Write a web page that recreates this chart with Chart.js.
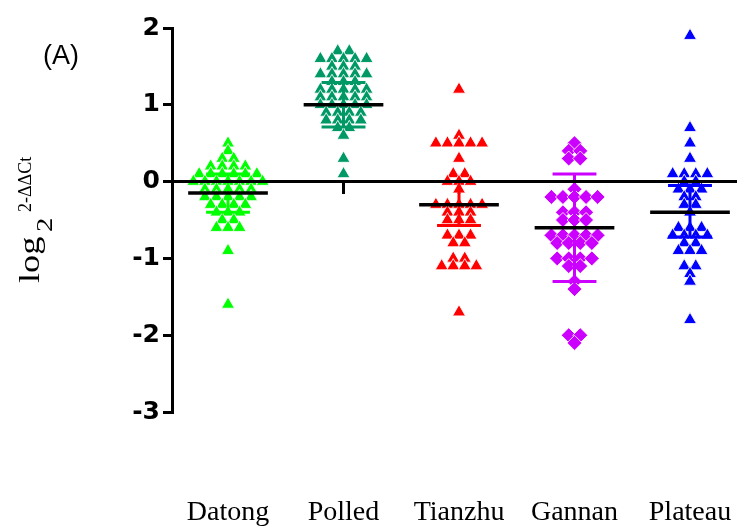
<!DOCTYPE html>
<html>
<head>
<meta charset="utf-8">
<script src="https://cdn.jsdelivr.net/npm/chart.js@4.4.0/dist/chart.umd.min.js"></script>
<style>
html,body{margin:0;padding:0;background:#fff;}
#wrap{width:737px;height:526px;position:relative;}
</style>
</head>
<body>
<div id="wrap"><canvas id="c" width="737" height="526"></canvas></div>
<script>
// ---------- data ----------
const categories = ['Datong', 'Polled', 'Tianzhu', 'Gannan', 'Plateau'];

const datong = [0.5, 0.4, 0.3, 0.3, 0.2, 0.2, 0.2, 0.2,
  0.1, 0.1, 0.1, 0.1, 0.1, 0.1,
  0.0, 0.0, 0.0, 0.0, 0.0, 0.0, 0.0,
  -0.1, -0.1, -0.1, -0.1, -0.1,
  -0.2, -0.2, -0.2, -0.2, -0.2,
  -0.3, -0.3, -0.3, -0.3,
  -0.4, -0.4, -0.4, -0.5, -0.5,
  -0.6, -0.6, -0.6, -0.9, -1.6];

const polled = [1.7, 1.7, 1.6, 1.6, 1.6, 1.6, 1.6,
  1.5, 1.5, 1.5, 1.4, 1.4, 1.4, 1.4, 1.4,
  1.3, 1.3, 1.3, 1.2, 1.2, 1.2, 1.2, 1.2,
  1.1, 1.1, 1.1, 1.1, 1.1, 1.0, 1.0, 1.0, 1.0, 1.0,
  0.9, 0.9, 0.9, 0.9, 0.8, 0.8, 0.8, 0.8,
  0.7, 0.7, 0.6, 0.3, 0.1];

const tianzhu = [1.2, 0.6, 0.5, 0.5, 0.5, 0.5, 0.5, 0.3,
  0.1, 0.1, 0.0, 0.0, 0.0, -0.1,
  -0.3, -0.3, -0.3, -0.3, -0.3,
  -0.4, -0.4, -0.4, -0.5, -0.5, -0.5,
  -0.7, -0.7, -0.7, -0.8, -0.8,
  -1.0, -1.0, -1.1, -1.1, -1.1, -1.1, -1.7];

const gannan = [0.5, 0.4, 0.4, 0.3, 0.3, -0.1,
  -0.2, -0.2, -0.2, -0.2, -0.2,
  -0.4, -0.4, -0.4, -0.5, -0.5, -0.5,
  -0.7, -0.7, -0.7, -0.7, -0.7,
  -0.8, -0.8, -0.8, -0.8, -1.0, -1.0, -1.0, -1.0,
  -1.1, -1.1, -1.3, -1.4, -2.0, -2.0, -2.1];

const plateau = [1.9, 0.7, 0.5, 0.3, 0.1, 0.1, 0.1, 0.1,
  0.0, 0.0, -0.1, -0.1, -0.1, -0.2, -0.2, -0.3, -0.3, -0.4,
  -0.6, -0.6, -0.6, -0.7, -0.7, -0.7, -0.7,
  -0.8, -0.8, -0.9, -0.9, -0.9, -1.1, -1.1, -1.2, -1.3, -1.8];

const groupMeans = [-0.15, 1.0, -0.3, -0.6, -0.4];
const errUpper = [0.1, 1.29, 0.0, 0.1, -0.05];
const errLower = [-0.4, 0.71, -0.57, -1.3, -0.72];
const yTickValues = [2, 1, 0, -1, -2, -3];

// ---------- styling ----------
const groupValues = [datong, polled, tianzhu, gannan, plateau];
const colors = ['#00FF00', '#009966', '#FF0000', '#CC00FF', '#0000FF'];
const shapes = ['triangle', 'triangle', 'triangle', 'rectRot', 'triangle'];
const STEP = 0.1;        // horizontal spacing (x units) of points sharing a value
const MEAN_HALF = 0.345; // half width of mean line (x units)
const CAP_HALF = 0.19;   // half width of error caps (x units)
const X_MIN = 0.515, X_MAX = 5.407;

function swarm(values, center) {
  const counts = {};
  values.forEach(v => { const k = v.toFixed(2); counts[k] = (counts[k] || 0) + 1; });
  const seen = {};
  return values.map(v => {
    const k = v.toFixed(2);
    seen[k] = (seen[k] === undefined) ? 0 : seen[k] + 1;
    const n = counts[k];
    return { x: center + (seen[k] - (n - 1) / 2) * STEP, y: v };
  });
}

function seg(x1, y1, x2, y2, color, width, order) {
  return {
    type: 'line', data: [{ x: x1, y: y1 }, { x: x2, y: y2 }],
    borderColor: color, borderWidth: width, pointRadius: 0, pointHoverRadius: 0,
    fill: false, tension: 0, order: order, borderCapStyle: 'butt'
  };
}

const datasets = [];
datasets.push(seg(X_MIN, 0, X_MAX, 0, '#000', 3, 0));
categories.forEach((c, i) => {
  const cx = i + 1;
  datasets.push(seg(cx - MEAN_HALF, groupMeans[i], cx + MEAN_HALF, groupMeans[i], '#000', 3.5, 0));
  datasets.push(seg(cx, errLower[i], cx, errUpper[i], colors[i], 3, 1));
  datasets.push(seg(cx - CAP_HALF, errUpper[i], cx + CAP_HALF, errUpper[i], colors[i], 3, 1));
  datasets.push(seg(cx - CAP_HALF, errLower[i], cx + CAP_HALF, errLower[i], colors[i], 3, 1));
  datasets.push({
    type: 'scatter', label: c, data: swarm(groupValues[i], cx),
    pointStyle: shapes[i], pointRadius: 7.5, pointHoverRadius: 7.5,
    backgroundColor: colors[i], borderColor: 'rgba(255,255,255,0.85)', borderWidth: 1,
    order: 2
  });
  datasets.push(seg(cx, 0, cx, -0.16, '#000', 3, 3));
});

const textPlugin = {
  id: 'texts',
  afterDraw(chart) {
    const ctx = chart.ctx;
    ctx.save();
    ctx.fillStyle = '#000';
    ctx.font = '27px "Liberation Sans", Arial, sans-serif';
    ctx.textAlign = 'center';
    ctx.textBaseline = 'middle';
    ctx.fillText('(A)', 61, 57);

    // rotated y title: log_2^{2-ΔΔCt}
    ctx.translate(39, 283);
    ctx.rotate(-Math.PI / 2);
    ctx.textAlign = 'left';
    ctx.textBaseline = 'alphabetic';
    ctx.save();
    ctx.scale(1.25, 1);
    ctx.font = '29px "Liberation Serif", "Times New Roman", serif';
    ctx.fillText('log', 0, 0);
    ctx.restore();
    ctx.save();
    ctx.translate(51, 13);
    ctx.scale(1.25, 1);
    ctx.font = '23px "Liberation Serif", "Times New Roman", serif';
    ctx.fillText('2', 0, 0);
    ctx.restore();
    ctx.font = '18px "Liberation Serif", "Times New Roman", serif';
    ctx.fillText('2-ΔΔCt', 71, -8);
    ctx.restore();
  }
};

new Chart(document.getElementById('c'), {
  type: 'scatter',
  data: { datasets: datasets },
  options: {
    responsive: false,
    animation: false,
    devicePixelRatio: 1,
    events: [],
    layout: { autoPadding: false, padding: { left: 0, top: 28, right: 0, bottom: 0 } },
    plugins: { legend: { display: false }, tooltip: { enabled: false } },
    scales: {
      x: {
        type: 'linear', min: X_MIN, max: X_MAX,
        border: { display: false },
        grid: { display: false, drawTicks: false },
        afterBuildTicks: (scale) => { scale.ticks = categories.map((c, i) => ({ value: i + 1 })); },
        afterFit: (scale) => { scale.height = 114; scale.paddingLeft = 0; scale.paddingRight = 0; },
        ticks: {
          autoSkip: false, maxRotation: 0, padding: 84, color: '#000',
          font: { family: '"Liberation Serif", "Times New Roman", serif', size: 28 },
          callback: (v) => categories[Math.round(v) - 1] || ''
        }
      },
      y: {
        type: 'linear', min: -3, max: 2,
        afterBuildTicks: (scale) => { scale.ticks = yTickValues.map(v => ({ value: v })); },
        afterFit: (scale) => { scale.width = 172; },
        border: { display: true, color: '#000', width: 3 },
        grid: { display: true, drawOnChartArea: false, drawTicks: true, tickLength: 9, tickColor: '#000', lineWidth: 3 },
        ticks: {
          color: '#000', padding: 3,
          font: { family: '"DejaVu Sans", Arial, sans-serif', size: 25, weight: 'bold' },
          callback: (v) => String(v)
        }
      }
    }
  },
  plugins: [textPlugin]
});
</script>
</body>
</html>
